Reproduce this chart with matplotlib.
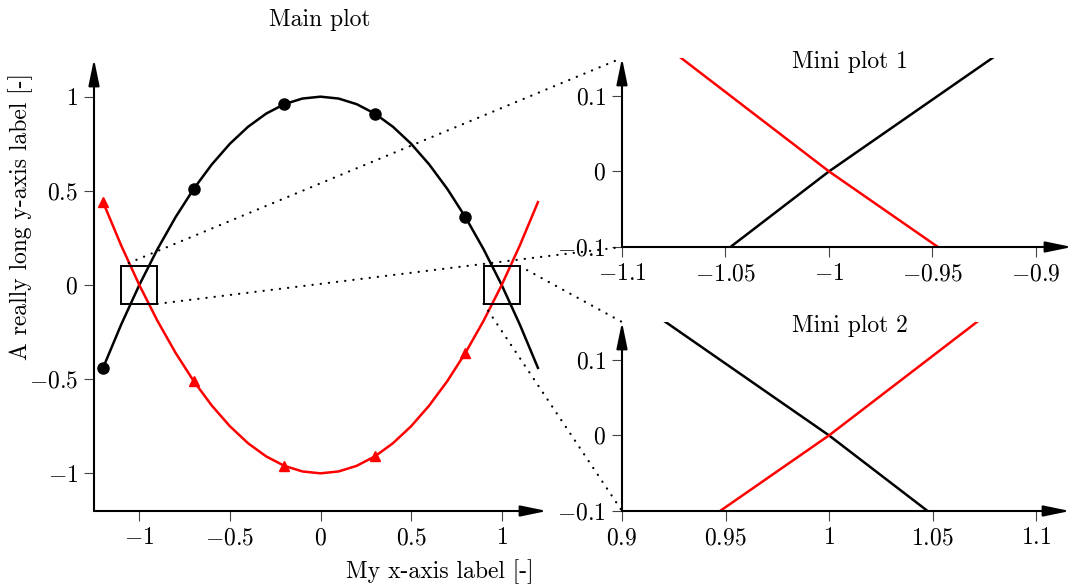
import matplotlib
matplotlib.use("Agg")
import matplotlib.pyplot as plt
from matplotlib.patches import Rectangle, ConnectionPatch
from matplotlib.ticker import FixedLocator, FuncFormatter

plt.rcParams['font.family'] = 'serif'
plt.rcParams['font.serif'] = ['cmr10']
plt.rcParams['mathtext.fontset'] = 'cm'
plt.rcParams['axes.formatter.use_mathtext'] = True
plt.rcParams['font.size'] = 17

x_vals = [-1.2, -1.1, -1.0, -0.9, -0.8, -0.7, -0.6, -0.5, -0.4, -0.3, -0.2, -0.1, 0.0,
          0.1, 0.2, 0.3, 0.4, 0.5, 0.6, 0.7, 0.8, 0.9, 1.0, 1.1, 1.2]
black_vals = [-0.44, -0.21, 0.0, 0.19, 0.36, 0.51, 0.64, 0.75, 0.84, 0.91, 0.96, 0.99, 1.0,
              0.99, 0.96, 0.91, 0.84, 0.75, 0.64, 0.51, 0.36, 0.19, 0.0, -0.21, -0.44]
red_vals = [0.44, 0.21, 0.0, -0.19, -0.36, -0.51, -0.64, -0.75, -0.84, -0.91, -0.96, -0.99, -1.0,
            -0.99, -0.96, -0.91, -0.84, -0.75, -0.64, -0.51, -0.36, -0.19, 0.0, 0.21, 0.44]

main_ticks = [-1, -0.5, 0, 0.5, 1]
mini1_xticks = [-1.1, -1.05, -1.0, -0.95, -0.9]
mini2_xticks = [0.9, 0.95, 1.0, 1.05, 1.1]
mini_yticks = [-0.1, 0, 0.1]

# zoom boxes: (x centre, y centre), half size
zoom_centres = [(-1.0, 0.0), (1.0, 0.0)]
zoom_half = 0.1

W, H = 1072, 585
FS = 17
fig = plt.figure(figsize=(W / 100, H / 100), dpi=100)


def px_axes(left, top, right, bottom):
    return fig.add_axes([left / W, 1 - bottom / H, (right - left) / W, (bottom - top) / H])


def style_axes(ax, xticks, yticks):
    for s in ax.spines.values():
        s.set_visible(False)
    ax.patch.set_visible(False)
    kw = dict(arrowstyle='-|>,head_length=1.6,head_width=0.33', color='black', lw=1.5,
              shrinkA=0, shrinkB=0, mutation_scale=10)
    ax.annotate('', xy=(1, 0), xytext=(0, 0), xycoords='axes fraction',
                textcoords='axes fraction', arrowprops=kw, annotation_clip=False)
    ax.annotate('', xy=(0, 1), xytext=(0, 0), xycoords='axes fraction',
                textcoords='axes fraction', arrowprops=kw, annotation_clip=False)
    ax.xaxis.set_major_locator(FixedLocator(xticks))
    ax.yaxis.set_major_locator(FixedLocator(yticks))
    fmt = FuncFormatter(lambda v, p: f"${v:g}$")
    ax.xaxis.set_major_formatter(fmt)
    ax.yaxis.set_major_formatter(fmt)
    ax.tick_params(direction='out', length=7.5, width=0.8, color='#444444', pad=4,
                   labelsize=FS, top=False, right=False)


def draw_curves(ax, marks):
    me = 5 if marks else None
    ax.plot(x_vals, black_vals, color='black', lw=1.8, marker='o' if marks else None,
            markersize=8, markevery=me)
    ax.plot(x_vals, red_vals, color='red', lw=1.8, marker='^' if marks else None,
            markersize=7.5, markevery=me)


ax = px_axes(94, 59, 547, 511)
ax.set_xlim(-1.25, 1.25)
ax.set_ylim(-1.2, 1.2)
style_axes(ax, main_ticks, main_ticks)
draw_curves(ax, True)
for cx, cy in zoom_centres:
    ax.add_patch(Rectangle((cx - zoom_half, cy - zoom_half), 2 * zoom_half, 2 * zoom_half,
                           fill=False, edgecolor='black', lw=1.4, zorder=3))

ax1 = px_axes(622, 58, 1072, 247)
ax1.set_xlim(-1.1, -0.8826)
ax1.set_ylim(-0.1, 0.15)
style_axes(ax1, mini1_xticks, mini_yticks)
draw_curves(ax1, False)

ax2 = px_axes(622, 322, 1070, 511)
ax2.set_xlim(0.9, 1.1164)
ax2.set_ylim(-0.1, 0.15)
style_axes(ax2, mini2_xticks, mini_yticks)
draw_curves(ax2, False)

# dotted connectors from zoom boxes to the mini plots
links = [((-1.1, 0.1), ax1, (0, 1)), ((-0.9, -0.1), ax1, (0, 0)),
         ((1.1, 0.1), ax2, (0, 1)), ((0.9, -0.1), ax2, (0, 0))]
for xy, target, corner in links:
    con = ConnectionPatch(xyA=xy, coordsA=ax.transData, xyB=corner,
                          coordsB=target.transAxes, color='black', lw=1.6,
                          linestyle=(0, (0.1, 3.6)), capstyle='round')
    fig.add_artist(con)

fig.text(320 / W, 1 - 20 / H, 'Main plot', ha='center', va='center', fontsize=FS)
fig.text(440 / W, 1 - 572 / H, 'My x-axis label [-]', ha='center', va='center', fontsize=FS)
fig.text(21 / W, 1 - 216 / H, 'A really long y-axis label [-]', ha='center', va='center',
         rotation=90, fontsize=FS)
fig.text(850 / W, 1 - 62 / H, 'Mini plot 1', ha='center', va='center', fontsize=FS)
fig.text(850 / W, 1 - 326 / H, 'Mini plot 2', ha='center', va='center', fontsize=FS)

fig.savefig('out.png', dpi=100)
